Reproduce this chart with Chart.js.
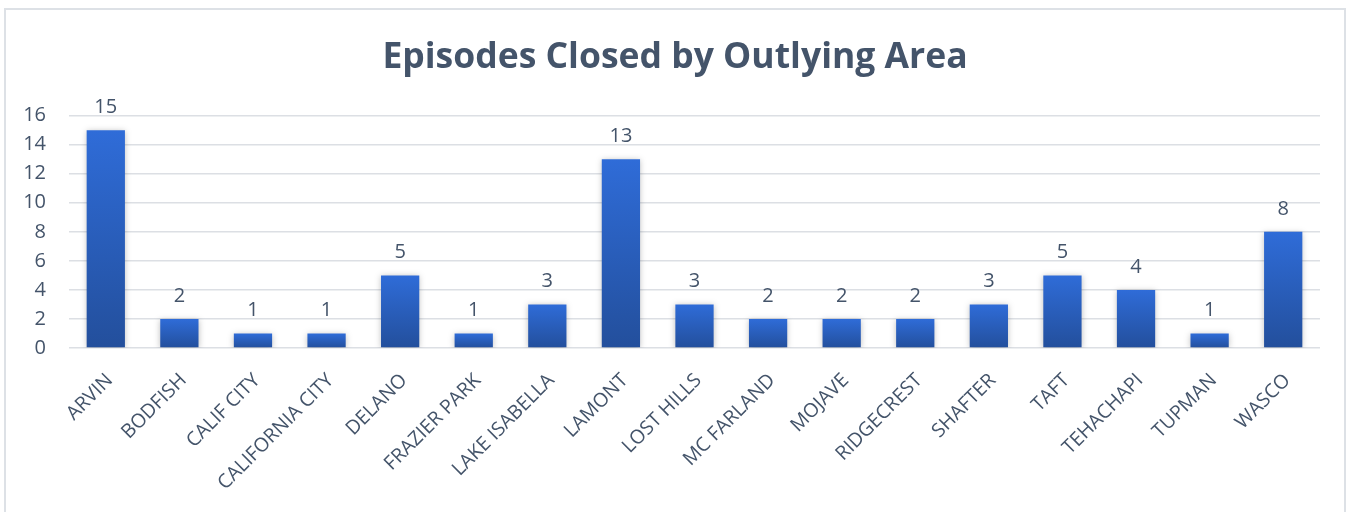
<!DOCTYPE html>
<html>
<head>
<meta charset="utf-8">
<script src="https://cdn.jsdelivr.net/npm/chart.js@4.4.0/dist/chart.umd.min.js"></script>
<style>
  html, body { margin: 0; padding: 0; background: #fff; }
  #wrap { position: absolute; left: 0; top: 0; width: 1350px; height: 512px; }
  #frame { position: absolute; left: 4px; top: 8px; width: 1342px; height: 520px; border: 2px solid #dde1e6; box-sizing: border-box; pointer-events: none; }
</style>
</head>
<body>
<div id="wrap">
  <canvas id="areaChart" width="1350" height="512"></canvas>
</div>
<div id="frame"></div>
<script>
const TITLE = 'Episodes Closed by Outlying Area';
const areas = ['ARVIN', 'BODFISH', 'CALIF CITY', 'CALIFORNIA CITY', 'DELANO', 'FRAZIER PARK',
    'LAKE ISABELLA', 'LAMONT', 'LOST HILLS', 'MC FARLAND', 'MOJAVE', 'RIDGECREST',
    'SHAFTER', 'TAFT', 'TEHACHAPI', 'TUPMAN', 'WASCO'];
const closed = [15, 2, 1, 1, 5, 1, 3, 13, 3, 2, 2, 2, 3, 5, 4, 1, 8];
const yTicks = [0, 2, 4, 6, 8, 10, 12, 14, 16];

const TEXT = '#44546a';
const FONT = "'Open Sans', sans-serif";

// each bar gets its own top-to-bottom gradient
function barFill(ctx) {
    const chart = ctx.chart;
    const y = chart.scales.y;
    if (!chart.chartArea || !y || ctx.parsed == null) return '#2a5fc2';
    const top = y.getPixelForValue(ctx.parsed.y);
    const bottom = y.getPixelForValue(0);
    const g = chart.ctx.createLinearGradient(0, top, 0, bottom);
    g.addColorStop(0, '#2f6cd8');
    g.addColorStop(1, '#234f9c');
    return g;
}

const barShadow = {
    id: 'barShadow',
    beforeDatasetDraw(chart) {
        const c = chart.ctx;
        c.save();
        c.shadowColor = 'rgba(0,0,0,0.25)';
        c.shadowBlur = 6;
        c.shadowOffsetX = 0;
        c.shadowOffsetY = 1;
    },
    afterDatasetDraw(chart) {
        chart.ctx.restore();
    }
};

const valueLabels = {
    id: 'valueLabels',
    afterDatasetsDraw(chart) {
        const c = chart.ctx;
        const meta = chart.getDatasetMeta(0);
        c.save();
        c.fillStyle = TEXT;
        c.font = `20px ${FONT}`;
        c.textAlign = 'center';
        c.textBaseline = 'alphabetic';
        meta.data.forEach((bar, i) => {
            c.fillText(String(closed[i]), bar.x, bar.y - 17);
        });
        c.restore();
    }
};

new Chart(document.getElementById('areaChart'), {
    type: 'bar',
    data: {
        labels: areas,
        datasets: [{
            data: closed,
            backgroundColor: barFill,
            borderWidth: 0,
            barPercentage: 0.52,
            categoryPercentage: 1.0
        }]
    },
    plugins: [barShadow, valueLabels],
    options: {
        responsive: false,
        animation: false,
        // symmetric padding keeps the title centred on the frame
        layout: { padding: { left: 15, right: 15, top: 0, bottom: 0 } },
        plugins: {
            legend: { display: false },
            tooltip: { enabled: false },
            title: {
                display: true,
                text: TITLE,
                color: TEXT,
                font: { family: FONT, size: 35.5, weight: 'bold' },
                padding: { top: 37, bottom: 36 }
            }
        },
        scales: {
            x: {
                grid: { display: false },
                border: { display: false },
                ticks: {
                    color: TEXT,
                    font: { family: FONT, size: 19.5 },
                    maxRotation: 45,
                    minRotation: 45,
                    autoSkip: false,
                    padding: 13,
                    labelOffset: 4
                },
                afterFit(scale) { scale.height = 164; }
            },
            y: {
                min: 0,
                max: 16,
                afterBuildTicks(scale) { scale.ticks = yTicks.map(v => ({ value: v })); },
                grid: { color: '#dcdfe4', lineWidth: 1.5, drawTicks: false },
                border: { display: false },
                ticks: {
                    color: TEXT,
                    font: { family: FONT, size: 20 },
                    padding: 23
                },
                afterFit(scale) { scale.width = 54; }
            },
            // empty right-hand spacer
            spacer: {
                position: 'right',
                min: 0,
                max: 16,
                grid: { display: false },
                border: { display: false },
                ticks: { display: false },
                afterFit(scale) { scale.width = 15; }
            }
        }
    }
});
</script>
</body>
</html>
